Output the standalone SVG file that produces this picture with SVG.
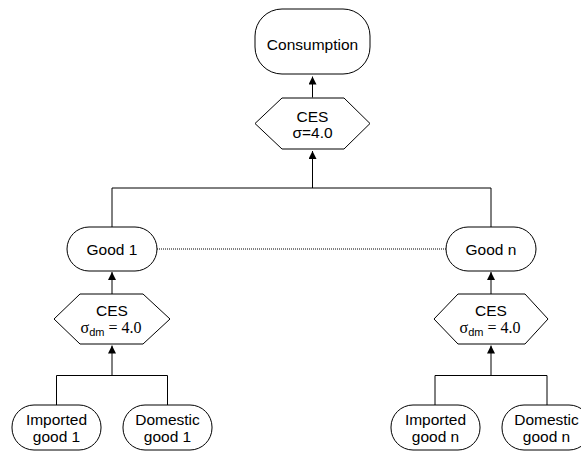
<svg xmlns="http://www.w3.org/2000/svg" width="581" height="455" viewBox="0 0 581 455">
<style>
.box{fill:#fff;stroke:#000;stroke-width:1}
.t{font-family:"Liberation Sans",Arial,sans-serif;font-size:15.5px;fill:#000;text-anchor:middle}
.s{font-family:"Liberation Serif","Times New Roman",serif;font-size:16px}
.sub{font-family:"Liberation Sans",Arial,sans-serif;font-size:11px}
.c{fill:none;stroke:#000;stroke-width:1}
.a{fill:none;stroke:#000;stroke-width:1;marker-end:url(#arr)}
</style>
<defs>
<marker id="arr" viewBox="0 0 8 8" refX="8" refY="4" markerWidth="8" markerHeight="8" markerUnits="userSpaceOnUse" orient="auto">
<path d="M0,0 L8,4 L0,8 z" fill="#000"/>
</marker>
</defs>
<g id="connectors">
<path class="a" d="M312.5,97.5 V76.5"/>
<path class="a" d="M312.5,188 V151"/>
<path class="c" d="M112,227 V188 H491 V227"/>
<path class="c" d="M157,249 H446" stroke-dasharray="1,1"/>
<path class="a" d="M112,294 V272"/>
<path class="a" d="M491,294 V272"/>
<path class="a" d="M112,375.5 V345.5"/>
<path class="a" d="M491,375.5 V345.5"/>
<path class="c" d="M56.5,405 V375.5 H167.5 V405"/>
<path class="c" d="M435,405 V375.5 H547 V405"/>
</g>
<g id="consumption">
<rect class="box" x="255" y="9" width="115" height="65" rx="27" ry="27"/>
<text class="t" x="312.5" y="49.5">Consumption</text>
</g>
<g id="ces-top">
<polygon class="box" points="255,123.5 282,98 344,98 370,123.5 344,149 282,149"/>
<text class="t" x="312.5" y="121.5">CES</text>
<text class="t" x="312.5" y="138">σ=4.0</text>
</g>
<g id="good1">
<rect class="box" x="67" y="227" width="90" height="44" rx="22" ry="22"/>
<text class="t" x="112" y="254.5">Good 1</text>
</g>
<g id="goodn">
<rect class="box" x="446" y="227" width="90" height="44" rx="22" ry="22"/>
<text class="t" x="491" y="254.5">Good n</text>
</g>
<g id="ces-left">
<polygon class="box" points="54,319 80,294 143,294 170,319 143,344 80,344"/>
<text class="t" x="112" y="315.5">CES</text>
<text class="t" x="111" y="333"><tspan class="s">σ</tspan><tspan class="sub" dy="3">dm</tspan><tspan class="s" dy="-3"> = 4.0</tspan></text>
</g>
<g id="ces-right">
<polygon class="box" points="434,319 458,294 525,294 548,319 525,344 458,344"/>
<text class="t" x="491" y="315.5">CES</text>
<text class="t" x="490" y="333"><tspan class="s">σ</tspan><tspan class="sub" dy="3">dm</tspan><tspan class="s" dy="-3"> = 4.0</tspan></text>
</g>
<g id="imported1">
<rect class="box" x="12" y="405" width="89" height="45" rx="22" ry="22"/>
<text class="t" x="56.5" y="425">Imported</text>
<text class="t" x="56.5" y="441.5">good 1</text>
</g>
<g id="domestic1">
<rect class="box" x="123" y="405" width="89" height="45" rx="22" ry="22"/>
<text class="t" x="167.5" y="425">Domestic</text>
<text class="t" x="167.5" y="441.5">good 1</text>
</g>
<g id="importedn">
<rect class="box" x="391" y="405" width="89" height="45" rx="22" ry="22"/>
<text class="t" x="435.5" y="425">Imported</text>
<text class="t" x="435.5" y="441.5">good n</text>
</g>
<g id="domesticn">
<rect class="box" x="502" y="405" width="89" height="45" rx="22" ry="22"/>
<text class="t" x="546.5" y="425">Domestic</text>
<text class="t" x="546.5" y="441.5">good n</text>
</g>
</svg>
